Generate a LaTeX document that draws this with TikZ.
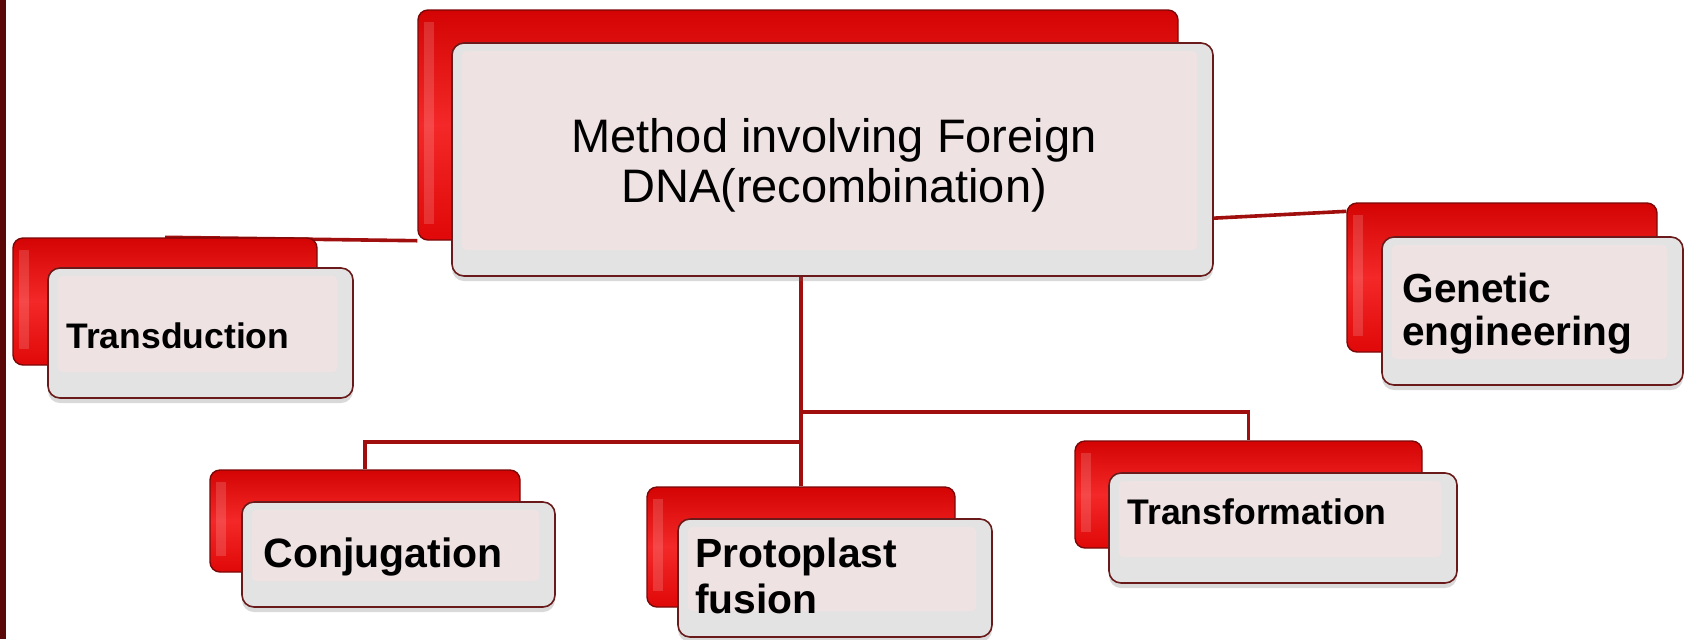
\documentclass[tikz,border=0pt]{standalone}
\usepackage{fontspec}
\setmainfont{Liberation Sans}
\usetikzlibrary{shadows,calc}
\definecolor{redA}{HTML}{D40404}
\definecolor{redB}{HTML}{F42828}
\definecolor{redC}{HTML}{E00808}
\definecolor{redline}{HTML}{7A0808}
\definecolor{frontline}{HTML}{6A1A1A}
\definecolor{bevel}{HTML}{E3E3E3}
\definecolor{pinkfill}{HTML}{EEE2E3}
\definecolor{linkred}{HTML}{A00E0E}
\definecolor{sidebar}{HTML}{5A0808}
\pgfdeclarelayer{bg}
\pgfsetlayers{bg,main}
\begin{document}
\begin{tikzpicture}[x=0.5pt,y=-0.5pt,
  redbox/.style={draw=redline, line width=0.7pt, rounded corners=5pt,
    top color=redA, bottom color=redC, middle color=redB, inner sep=0pt,
    path picture={\fill[white, opacity=0.15, sharp corners]
      ([shift={(3pt,-6pt)}]path picture bounding box.north west) rectangle
      ([shift={(8pt,8pt)}]path picture bounding box.south west);}},
  frontbox/.style={draw=frontline, line width=0.8pt, rounded corners=6pt,
    fill=bevel, inner sep=0pt,
    drop shadow={shadow xshift=0pt, shadow yshift=-2.5pt, opacity=0.25, fill=black!60},
    path picture={\fill[pinkfill, rounded corners=2pt]
      ([shift={(5pt,-4pt)}]path picture bounding box.north west) rectangle
      ([shift={(-8pt,13pt)}]path picture bounding box.south east);}},
  linkline/.style={draw=linkred, line width=1.8pt},
  lbl/.style={anchor=base west, inner sep=0pt, align=left, text=black},
]
\useasboundingbox (0,0) rectangle (1685,639);
\fill[sidebar] (0,0) rectangle (6,639);

% central
\node[redbox, minimum width=380pt, minimum height=115pt] (cb) at (798,125) {};
\node[frontbox, minimum width=380.5pt, minimum height=116.5pt] (cf) at (832.5,159.5) {};
\node[anchor=base, align=center, inner sep=0pt,
  font=\fontsize{23.5pt}{25pt}\selectfont] (mt) at (834,202)
  {Method involving Foreign\\DNA(recombination)};

% transduction
\node[redbox, minimum width=152pt, minimum height=63.5pt] (tdb) at (165,301.5) {};
\node[frontbox, minimum width=152.5pt, minimum height=65pt] (tdf) at (200.5,333) {};
\node[lbl, font=\bfseries\fontsize{17.75pt}{20pt}\selectfont] (tdt) at (66,348) {Transduction};

% genetic engineering
\node[redbox, minimum width=155pt, minimum height=74.5pt] (geb) at (1502,277.5) {};
\node[frontbox, minimum width=150.5pt, minimum height=74pt] (gef) at (1532.5,311) {};
\node[lbl, font=\bfseries\fontsize{20.3pt}{21.5pt}\selectfont] (get) at (1402,345) {Genetic\\engineering};

% conjugation
\node[redbox, minimum width=155pt, minimum height=51pt] (cjb) at (365,521) {};
\node[frontbox, minimum width=156.5pt, minimum height=52.5pt] (cjf) at (398.5,554.5) {};
\node[lbl, font=\bfseries\fontsize{20.5pt}{22pt}\selectfont] (cjt) at (263,567) {Conjugation};

% protoplast fusion
\node[redbox, minimum width=154pt, minimum height=60pt] (ppb) at (801,547) {};
\node[frontbox, minimum width=157pt, minimum height=59pt] (ppf) at (835,578) {};
\node[lbl, font=\bfseries\fontsize{20.4pt}{23pt}\selectfont] (ppt) at (695,613) {Protoplast\\fusion};

% transformation
\node[redbox, minimum width=173.5pt, minimum height=53.5pt] (tfb) at (1248.5,494.5) {};
\node[frontbox, minimum width=174pt, minimum height=55pt] (tff) at (1283,528) {};
\node[lbl, font=\bfseries\fontsize{17.8pt}{20pt}\selectfont] (tft) at (1127,524) {Transformation};

\begin{pgfonlayer}{bg}
\draw[linkline] (tdb.north) -- (cb.south west);
\draw[linkline] ($(cf.south east)!0.25!(cf.north east)$) -- ($(geb.north west)!0.06!(geb.south west)$);
\draw[linkline] (cf.south -| ppb.north) -- (ppb.north);
\coordinate (j1) at (801,442);
\coordinate (j2) at (801,412);
\draw[linkline] (j1) -| (cjb.north);
\draw[linkline] (j2) -| (tfb.north);
\end{pgfonlayer}
\end{tikzpicture}
\end{document}
